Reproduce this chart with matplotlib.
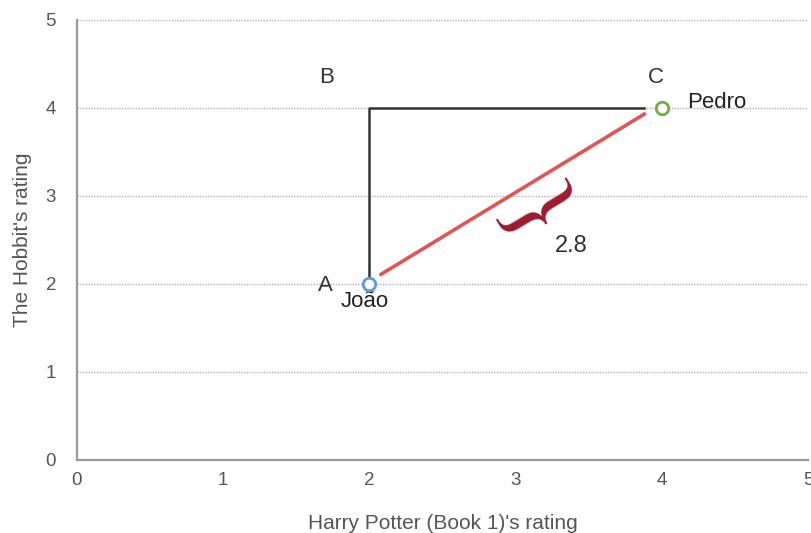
import matplotlib
matplotlib.use("Agg")
import matplotlib.pyplot as plt

plt.rcParams['font.family'] = ['Liberation Sans', 'DejaVu Sans']

# Data
names = ["João", "Pedro"]
hp_rating = [2, 4]
hobbit_rating = [2, 4]
point_colors = ["#5b9bd5", "#70ad47"]
distance = 2.8
ticks = [0, 1, 2, 3, 4, 5]

fig = plt.figure(figsize=(8.11, 5.33), dpi=100)
ax = fig.add_axes([0.0949, 0.137, 0.9014, 0.8255])
ax.set_xlim(0, 5)
ax.set_ylim(0, 5)

for s in ['top', 'right']:
    ax.spines[s].set_visible(False)
for s in ['left', 'bottom']:
    ax.spines[s].set_color('#9a9a9a')
    ax.spines[s].set_linewidth(1.6)

ax.set_xticks(ticks)
ax.set_yticks(ticks)
ax.tick_params(length=0, labelsize=13.5, labelcolor='#555555')
ax.tick_params(axis='x', pad=9)
ax.tick_params(axis='y', pad=15)
ax.yaxis.grid(True, linestyle=(0, (1, 1)), color='#b0b0b0', linewidth=1)
ax.set_axisbelow(True)

ax.set_xlabel("Harry Potter (Book 1)'s rating", fontsize=15, color='#555555', labelpad=18)
ax.set_ylabel("The Hobbit's rating", fontsize=15, color='#555555', labelpad=10)

# path A -> B -> C
ax.plot([hp_rating[0], hp_rating[0], 3.88], [hobbit_rating[0], hobbit_rating[1], hobbit_rating[1]],
        color='#333333', linewidth=1.8, zorder=3)
# distance line
ax.plot([2.08, 3.88], [2.11, 3.93], color='#e05555', linewidth=2.6, zorder=3)

for x, y, c in zip(hp_rating, hobbit_rating, point_colors):
    ax.plot(x, y, 'o', markersize=9, markerfacecolor='white', markeredgecolor=c,
            markeredgewidth=2, zorder=4)

ax.text(1.70, 1.98, "A", fontsize=16, color='#333333', ha='center', va='center')
ax.text(1.71, 4.35, "B", fontsize=16, color='#333333', ha='center', va='center')
ax.text(3.96, 4.35, "C", fontsize=16, color='#333333', ha='center', va='center')
ax.text(1.97, 1.80, names[0], fontsize=16, color='#222222', ha='center', va='center')
ax.text(4.17, 4.06, names[1], fontsize=16, color='#222222', ha='left', va='center')
ax.text(3.38, 2.43, f"{distance}", fontsize=17, color='#333333', ha='center', va='center')
ax.text(3.10, 2.72, "}", fontsize=72, color='#9b1b30', ha='center', va='center',
        rotation=-59, family='Liberation Serif')

fig.savefig("out.png", dpi=100)
